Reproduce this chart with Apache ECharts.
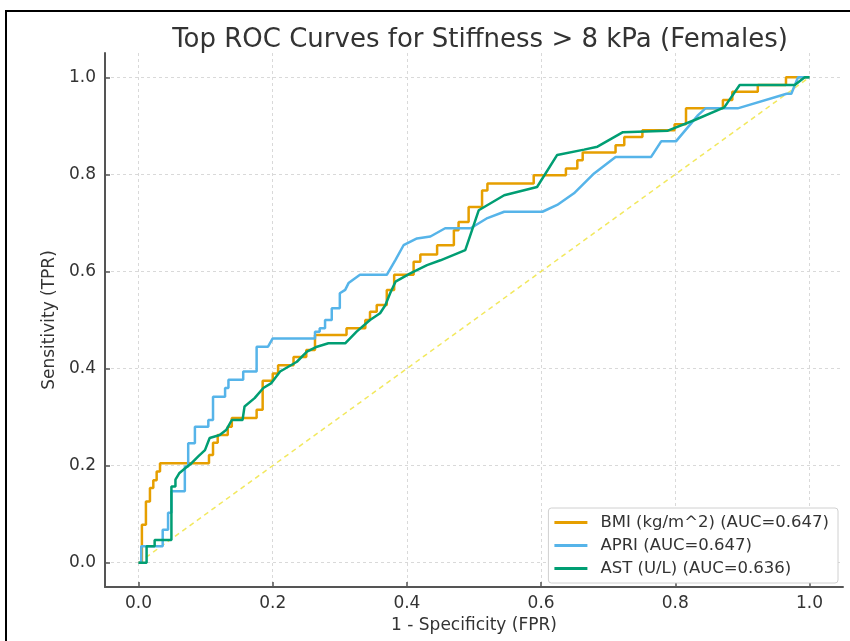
<!DOCTYPE html>
<html>
<head>
<meta charset="utf-8">
<title>ROC</title>
<script src="https://cdn.jsdelivr.net/npm/echarts@6/dist/echarts.min.js"></script>
<style>
  html, body { margin: 0; padding: 0; background: #fff; }
  #chart { width: 850px; height: 641px; }
</style>
</head>
<body>
<div id="chart"></div>
<script>
// axis ticks
const tickValues = [0, 0.2, 0.4, 0.6, 0.8, 1.0];

// BMI (kg/m^2)
const bmiFpr = [0, 0.005, 0.005, 0.011, 0.011, 0.017, 0.017, 0.022, 0.022, 0.027, 0.027, 0.032, 0.032, 0.105, 0.105, 0.111, 0.111, 0.118, 0.118, 0.133, 0.133, 0.139, 0.139, 0.176, 0.176, 0.185, 0.185, 0.2, 0.2, 0.208, 0.208, 0.231, 0.231, 0.25, 0.25, 0.263, 0.263, 0.31, 0.31, 0.338, 0.338, 0.345, 0.345, 0.355, 0.355, 0.37, 0.37, 0.381, 0.381, 0.41, 0.41, 0.42, 0.42, 0.445, 0.445, 0.47, 0.47, 0.477, 0.477, 0.492, 0.492, 0.512, 0.512, 0.52, 0.52, 0.589, 0.589, 0.637, 0.637, 0.654, 0.654, 0.662, 0.662, 0.711, 0.711, 0.724, 0.724, 0.751, 0.751, 0.799, 0.799, 0.816, 0.816, 0.871, 0.871, 0.885, 0.885, 0.923, 0.923, 0.965, 0.965, 1.0];
const bmiTpr = [0, 0, 0.078, 0.078, 0.126, 0.126, 0.154, 0.154, 0.17, 0.17, 0.188, 0.188, 0.205, 0.205, 0.222, 0.222, 0.247, 0.247, 0.263, 0.263, 0.28, 0.28, 0.298, 0.298, 0.315, 0.315, 0.375, 0.375, 0.39, 0.39, 0.407, 0.407, 0.424, 0.424, 0.438, 0.438, 0.469, 0.469, 0.483, 0.483, 0.5, 0.5, 0.517, 0.517, 0.531, 0.531, 0.562, 0.562, 0.593, 0.593, 0.62, 0.62, 0.635, 0.635, 0.654, 0.654, 0.685, 0.685, 0.702, 0.702, 0.733, 0.733, 0.767, 0.767, 0.781, 0.781, 0.798, 0.798, 0.812, 0.812, 0.829, 0.829, 0.845, 0.845, 0.86, 0.86, 0.877, 0.877, 0.891, 0.891, 0.903, 0.903, 0.936, 0.936, 0.953, 0.953, 0.97, 0.97, 0.984, 0.984, 1.0, 1.0];

// APRI
const apriFpr = [0, 0.004, 0.004, 0.036, 0.036, 0.044, 0.044, 0.049, 0.049, 0.069, 0.069, 0.074, 0.074, 0.084, 0.084, 0.104, 0.104, 0.111, 0.111, 0.129, 0.129, 0.134, 0.134, 0.156, 0.156, 0.176, 0.176, 0.193, 0.2, 0.263, 0.263, 0.27, 0.27, 0.278, 0.278, 0.288, 0.288, 0.3, 0.3, 0.308, 0.313, 0.33, 0.37, 0.383, 0.395, 0.415, 0.435, 0.457, 0.495, 0.52, 0.545, 0.602, 0.624, 0.649, 0.679, 0.711, 0.764, 0.779, 0.801, 0.834, 0.845, 0.893, 0.966, 0.973, 0.983, 1.0];
const apriTpr = [0, 0, 0.034, 0.034, 0.068, 0.068, 0.103, 0.103, 0.147, 0.147, 0.198, 0.198, 0.246, 0.246, 0.28, 0.28, 0.294, 0.294, 0.342, 0.342, 0.36, 0.36, 0.377, 0.377, 0.394, 0.394, 0.445, 0.445, 0.462, 0.462, 0.476, 0.476, 0.483, 0.483, 0.5, 0.5, 0.524, 0.524, 0.555, 0.562, 0.576, 0.593, 0.593, 0.624, 0.654, 0.668, 0.672, 0.689, 0.689, 0.71, 0.723, 0.723, 0.737, 0.761, 0.802, 0.836, 0.836, 0.868, 0.868, 0.922, 0.936, 0.936, 0.966, 0.966, 1.0, 1.0];

// AST (U/L)
const astFpr = [0, 0.012, 0.012, 0.024, 0.024, 0.049, 0.049, 0.055, 0.055, 0.061, 0.07, 0.079, 0.089, 0.099, 0.106, 0.121, 0.131, 0.139, 0.155, 0.158, 0.173, 0.186, 0.198, 0.211, 0.236, 0.251, 0.266, 0.283, 0.308, 0.325, 0.345, 0.36, 0.368, 0.375, 0.383, 0.405, 0.43, 0.45, 0.487, 0.507, 0.545, 0.594, 0.624, 0.664, 0.684, 0.722, 0.789, 0.829, 0.873, 0.896, 0.978, 0.993, 1.0];
const astTpr = [0, 0, 0.034, 0.034, 0.047, 0.047, 0.157, 0.157, 0.171, 0.185, 0.195, 0.205, 0.219, 0.232, 0.257, 0.263, 0.274, 0.294, 0.294, 0.322, 0.339, 0.36, 0.37, 0.394, 0.414, 0.435, 0.445, 0.452, 0.452, 0.476, 0.5, 0.514, 0.531, 0.555, 0.579, 0.596, 0.613, 0.623, 0.644, 0.726, 0.757, 0.774, 0.84, 0.851, 0.857, 0.887, 0.89, 0.912, 0.938, 0.984, 0.984, 1.0, 1.0];

// chance line
const chanceFpr = [0, 1];
const chanceTpr = [0, 1];

function pairs(xs, ys) {
  return xs.map((x, i) => [x, ys[i]]);
}

const chart = echarts.init(document.getElementById('chart'));
const font = 'DejaVu Sans';
const axisCommon = {
  type: 'value',
  min: -0.05,
  max: 1.05,
  axisLine: { show: true, onZero: false, lineStyle: { color: '#555', width: 2 } },
  axisTick: { show: true, inside: true, length: 5, customValues: tickValues, lineStyle: { color: '#555', width: 1.5 } },
  axisLabel: { customValues: tickValues, color: '#333', fontSize: 17, fontFamily: font,
               formatter: v => v.toFixed(1) },
  splitLine: { show: true, lineStyle: { color: '#d9d9d9', width: 1, type: [3, 3] } },
  nameLocation: 'middle',
  nameTextStyle: { color: '#333', fontSize: 17, fontFamily: font }
};

const option = {
  animation: false,
  backgroundColor: '#fff',
  title: {
    text: 'Top ROC Curves for Stiffness > 8 kPa (Females)',
    left: 475,
    textAlign: 'center',
    top: 22,
    textStyle: { color: '#333', fontSize: 26, fontWeight: 'normal', fontFamily: font }
  },
  grid: { left: 105, right: 7, top: 53, bottom: 54 },
  xAxis: Object.assign({}, axisCommon, {
    name: '1 - Specificity (FPR)',
    nameGap: 26,
    axisLabel: Object.assign({}, axisCommon.axisLabel, { margin: 8 })
  }),
  yAxis: Object.assign({}, axisCommon, {
    name: 'Sensitivity (TPR)',
    nameGap: 47,
    axisLabel: Object.assign({}, axisCommon.axisLabel, { margin: 9 })
  }),
  legend: {
    orient: 'vertical',
    right: 12,
    top: 508,
    data: ['BMI (kg/m^2) (AUC=0.647)', 'APRI (AUC=0.647)', 'AST (U/L) (AUC=0.636)'],
    icon: 'rect',
    itemWidth: 33,
    itemHeight: 3,
    itemGap: 6,
    padding: [6, 9, 6, 6],
    borderColor: '#d0d0d0',
    borderWidth: 1,
    borderRadius: 3,
    backgroundColor: '#fff',
    textStyle: { color: '#333', fontSize: 16.5, fontFamily: font, padding: [0, 0, 0, 8] }
  },
  graphic: [{
    type: 'polyline',
    shape: { points: [[6, 641], [6, 11], [850, 11]] },
    style: { stroke: '#000', lineWidth: 2, fill: null },
    z: 100
  }],
  series: [
    {
      type: 'line',
      data: pairs(chanceFpr, chanceTpr),
      symbol: 'none',
      lineStyle: { color: '#F0E442', width: 1.5, type: [5, 4], opacity: 0.85 },
      z: 1,
      silent: true
    },
    {
      name: 'BMI (kg/m^2) (AUC=0.647)',
      type: 'line',
      data: pairs(bmiFpr, bmiTpr),
      symbol: 'none',
      itemStyle: { color: '#E69F00' },
      lineStyle: { color: '#E69F00', width: 2.5 },
      z: 2
    },
    {
      name: 'APRI (AUC=0.647)',
      type: 'line',
      data: pairs(apriFpr, apriTpr),
      symbol: 'none',
      itemStyle: { color: '#56B4E9' },
      lineStyle: { color: '#56B4E9', width: 2.5 },
      z: 3
    },
    {
      name: 'AST (U/L) (AUC=0.636)',
      type: 'line',
      data: pairs(astFpr, astTpr),
      symbol: 'none',
      itemStyle: { color: '#009E73' },
      lineStyle: { color: '#009E73', width: 2.5 },
      z: 4
    }
  ]
};
chart.setOption(option);
</script>
</body>
</html>
